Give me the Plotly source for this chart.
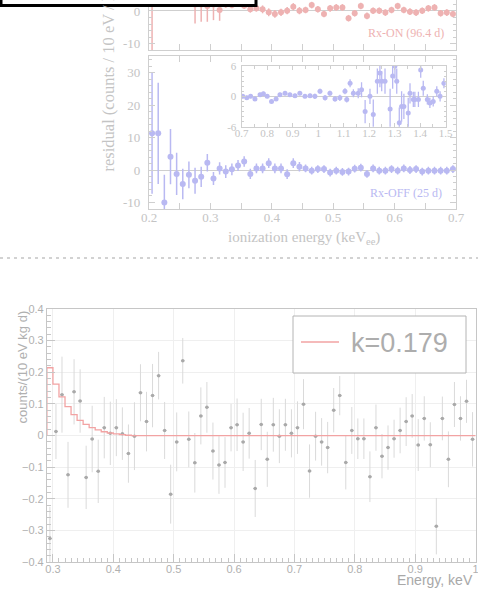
import plotly.graph_objects as go

W, H = 478, 597


def px(x):
    return x / W


def py(y):
    return 1 - y / H


# ---------------- bottom chart (ROOT style) ----------------
bottom_x = [round(0.295 + 0.01 * i, 3) for i in range(71)]
bottom_y = [-0.325, 0.013, 0.129, -0.124, 0.138, 0.109, -0.132, -0.011, -0.113, 0.025,
            0.007, 0.025, 0.006, -0.057, -0.002, 0.135, 0.044, 0.126, 0.189, 0.016,
            -0.185, -0.020, 0.236, -0.012, -0.086, 0.062, 0.089, -0.049, -0.093, -0.085,
            0.025, 0.034, -0.020, 0.007, -0.167, 0.035, -0.075, 0.034, -0.002, 0.034,
            0.007, 0.025, 0.099, -0.112, -0.002, -0.020, -0.038, 0.080, 0.126, -0.085,
            0.016, -0.010, -0.010, -0.130, 0.025, -0.065, -0.038, -0.010, 0.016, 0.044,
            0.062, -0.030, 0.054, -0.029, -0.286, 0.054, -0.075, 0.098, 0.054, 0.108,
            -0.012]
bottom_err = [0.10, 0.087, 0.12, 0.104, 0.103, 0.10, 0.10, 0.105, 0.10, 0.097,
              0.10, 0.09, 0.083, 0.092, 0.107, 0.09, 0.094, 0.10, 0.075, 0.09,
              0.093, 0.093, 0.072, 0.088, 0.094, 0.09, 0.08, 0.09, 0.091, 0.08,
              0.075, 0.083, 0.092, 0.08, 0.09, 0.081, 0.087, 0.085, 0.085, 0.082,
              0.076, 0.083, 0.079, 0.084, 0.077, 0.075, 0.081, 0.07, 0.062, 0.085,
              0.074, 0.064, 0.064, 0.08, 0.073, 0.07, 0.07, 0.06, 0.072, 0.077,
              0.069, 0.082, 0.07, 0.071, 0.089, 0.069, 0.088, 0.071, 0.07, 0.068,
              0.086]
hist_edges = [0.29, 0.30, 0.31, 0.32, 0.33, 0.34, 0.35, 0.36, 0.37, 0.38, 0.39, 0.40,
              0.41, 0.42, 0.43, 1.0]
hist_levels = [0.214, 0.162, 0.122, 0.091, 0.066, 0.048, 0.035, 0.025, 0.018, 0.012,
               0.008, 0.005, 0.003, 0.001, 0.0, 0.0]
bottom_xticks = [0.3, 0.4, 0.5, 0.6, 0.7, 0.8, 0.9, 1.0]
bottom_xtext = ["0.3", "0.4", "0.5", "0.6", "0.7", "0.8", "0.9", "1"]
bottom_yticks = [-0.4, -0.3, -0.2, -0.1, 0, 0.1, 0.2, 0.3, 0.4]
bottom_ytext = ["\u22120.4", "\u22120.3", "\u22120.2", "\u22120.1", "0", "0.1", "0.2", "0.3", "0.4"]
legend_label = "k=0.179"

# ---------------- top chart (residual panels) ----------------
on_x = [0.205, 0.275, 0.285, 0.295, 0.305, 0.315, 0.325, 0.335, 0.345, 0.355, 0.365, 0.375,
        0.385, 0.395, 0.405, 0.415, 0.425, 0.435, 0.445, 0.455, 0.465, 0.475, 0.485,
        0.495, 0.505, 0.515, 0.525, 0.535, 0.545, 0.555, 0.565, 0.575, 0.585, 0.595,
        0.605, 0.615, 0.625, 0.635, 0.645, 0.655, 0.665, 0.675, 0.685, 0.695]
on_y = [5.0, 2.0, 2.0, 1.5, 2.0, 0.3, 2.0, 1.8, 2.2, 1.6, 0.5, 0.8,
        0.5, -0.4, -0.9, -0.4, 0.1, 1.3, 0.1, 0.3, 1.8, 0.5, -0.9,
        0.8, 1.1, 1.1, -2.2, -0.7, 1.5, -1.5, 0.1, 0.1, -0.5, 0.3,
        1.5, 0.3, -0.2, -0.5, 0.1, 0.8, 1.1, -0.7, -0.5, -0.9]
on_err = [30, 5.8, 5.3, 4.8, 4.8, 3.3, 1.0, 1.0, 1.0, 1.0, 1.0, 1.0,
          1.2, 1.2, 1.2, 1.1, 1.1, 1.1, 1.1, 1.0, 1.0, 1.0, 1.0,
          1.0, 1.0, 1.0, 1.0, 1.0, 1.0, 1.0, 1.0, 1.0, 1.0, 1.0,
          1.0, 1.0, 1.0, 1.0, 1.0, 1.0, 1.0, 1.0, 1.0, 1.0]

off_x = [round(0.205 + 0.01 * i, 3) for i in range(50)]
off_y = [11.3, 11.3, -10.0, 4.1, -1.2, -4.3, -1.5, -3.3, -2.1, 2.2,
         -2.6, 0.5, -0.5, 0.2, 1.4, 2.6, -1.2, 0.5, 0.5, 2.1,
         0.5, 0.5, -1.3, 2.1, 1.0, 0.5, -0.2, 0.3, 0.3, -0.8,
         -0.2, -0.6, -0.5, 0.4, 0.7, -1.2, 0.5, -0.2, -0.2, 0.3,
         -0.2, 0.5, 0.0, 0.3, -0.5, -0.2, -0.2, -0.2, -0.2, 0.3]
off_err = [18.6, 15.6, 8.5, 8.5, 6.5, 4.7, 4.1, 4.0, 3.1, 2.7,
           2.0, 1.9, 2.0, 1.8, 1.7, 1.6, 1.6, 1.5, 1.5, 1.5,
           1.5, 1.5, 1.5, 1.5, 1.5, 1.2, 1.2, 1.2, 1.2, 1.2,
           1.2, 1.2, 1.2, 1.2, 1.2, 1.2, 1.2, 1.2, 1.2, 1.2,
           1.2, 1.2, 1.2, 1.2, 1.2, 1.2, 1.2, 1.2, 1.2, 1.2]

inset_x = [0.704, 0.720, 0.735, 0.752, 0.772, 0.785, 0.800, 0.817, 0.835, 0.850,
           0.870, 0.889, 0.909, 0.928, 0.948, 0.968, 0.987, 1.007, 1.027, 1.046,
           1.066, 1.085, 1.105, 1.112, 1.125, 1.138, 1.157, 1.170, 1.184, 1.203,
           1.216, 1.232, 1.242, 1.249, 1.262, 1.282, 1.292, 1.301, 1.308, 1.318,
           1.327, 1.336, 1.353, 1.360, 1.373, 1.379, 1.393, 1.402, 1.412, 1.428,
           1.438, 1.451, 1.465, 1.478, 1.493]
inset_y = [0.0, -0.3, 0.0, -0.5, 0.3, 0.5, 0.0, -1.0, -0.5, 0.3,
           0.6, 0.3, 0.1, 0.6, 0.0, 0.1, 0.0, 1.0, -0.3, 0.6,
           -0.5, -0.3, 1.0, -0.6, 2.6, 0.6, 0.6, 1.3, -3.0, 0.0,
           -3.6, 3.0, 4.6, 3.0, 3.0, -2.5, 4.0, 6.0, 3.0, -5.2,
           -2.0, -2.0, -3.3, 0.6, -0.6, -0.6, -0.6, 5.2, 1.6, -0.6,
           -1.3, -1.0, 1.0, 0.0, 2.6]
inset_err = [0.4, 0.4, 0.4, 0.4, 0.4, 0.4, 0.4, 0.4, 0.4, 0.4,
             0.4, 0.4, 0.4, 0.4, 0.4, 0.4, 0.5, 0.5, 0.5, 0.5,
             0.5, 0.6, 0.6, 0.6, 0.8, 0.8, 1.0, 1.5, 2.3, 1.5,
             3.0, 2.5, 2.8, 2.0, 2.5, 4.0, 2.5, 2.5, 2.5, 3.0,
             3.0, 2.5, 3.0, 2.0, 1.5, 1.5, 1.5, 1.5, 1.5, 1.0,
             1.0, 1.0, 1.0, 1.0, 1.0]

on_label = "Rx-ON (96.4 d)"
off_label = "Rx-OFF (25 d)"
top_ytitle = "residual (counts / 10 eV / kg / day)"
top_xtitle = "ionization energy (keV<sub>ee</sub>)"

# ---------------- styles ----------------
PINK = "#eeb2b2"
BLUE = "#b9b9f2"
TOPAX = "#cfcfcf"
TOPTXT = "#c4c4c4"
SERIF = "Liberation Serif"
SANS = "Liberation Sans"
ROOTAX = "#c6c6c6"
ROOTTXT = "#b0b0b0"
RED = "#f2a3a3"

fig = go.Figure()

# bottom data
fig.add_trace(go.Scatter(
    x=bottom_x, y=bottom_y, mode="markers", xaxis="x", yaxis="y",
    marker=dict(size=3.5, color="#a9a9a9"),
    error_y=dict(type="data", array=bottom_err, color="#dadada", thickness=1, width=0),
    error_x=dict(type="constant", value=0.003, color="#b0b0b0", thickness=1, width=0),
    showlegend=False, hoverinfo="skip"))
fig.add_trace(go.Scatter(
    x=[hist_edges[0]] + hist_edges, y=[0.0] + hist_levels, mode="lines",
    line=dict(color=RED, width=1.3, shape="hv"), xaxis="x", yaxis="y",
    showlegend=False, hoverinfo="skip"))

# top: Rx-ON
fig.add_trace(go.Scatter(
    x=on_x, y=on_y, mode="markers", xaxis="x2", yaxis="y2",
    marker=dict(size=6, color=PINK),
    error_y=dict(type="data", array=on_err, color=PINK, thickness=1.5, width=0),
    showlegend=False, hoverinfo="skip"))
# top: Rx-OFF
fig.add_trace(go.Scatter(
    x=off_x, y=off_y, mode="markers", xaxis="x3", yaxis="y3",
    marker=dict(size=6, color=BLUE),
    error_y=dict(type="data", array=off_err, color=BLUE, thickness=1.5, width=0),
    showlegend=False, hoverinfo="skip"))
# inset
fig.add_trace(go.Scatter(
    x=inset_x, y=inset_y, mode="markers", xaxis="x4", yaxis="y4",
    marker=dict(size=5, color=BLUE),
    error_y=dict(type="data", array=inset_err, color=BLUE, thickness=1.3, width=0),
    showlegend=False, hoverinfo="skip"))

root_axis = dict(showline=True, linecolor=ROOTAX, linewidth=1, mirror=True,
                 ticks="inside", tickcolor=ROOTAX, ticklen=8, automargin=False,
                 showgrid=True, gridcolor="#efefef", gridwidth=1, zeroline=False,
                 ticklabeloverflow="allow",
                 tickfont=dict(family=SANS, size=11, color=ROOTTXT))

top_axis = dict(showline=True, linecolor=TOPAX, linewidth=1.3, automargin=False,
                ticks="inside", tickcolor=TOPAX, ticklen=6, showgrid=False,
                ticklabeloverflow="allow",
                tickfont=dict(family=SERIF, size=13, color=TOPTXT))

fig.update_layout(
    template="none",
    width=W, height=H, autosize=False,
    margin=dict(l=0, r=0, t=0, b=0, pad=0, autoexpand=False),
    paper_bgcolor="white", plot_bgcolor="rgba(0,0,0,0)",
    xaxis=dict(domain=[px(46.9), px(475.7)], range=[0.29, 1.0002], anchor="y",
               tickmode="array", tickvals=bottom_xticks, ticktext=bottom_xtext,
               ticklabelstandoff=-4,
               minor=dict(ticks="inside", ticklen=4, dtick=0.01, tick0=0.29,
                          tickcolor=ROOTAX, showgrid=False),
               **root_axis),
    yaxis=dict(domain=[py(562.3), py(308.8)], range=[-0.4, 0.4], anchor="x",
               tickmode="array", tickvals=bottom_yticks, ticktext=bottom_ytext,
               minor=dict(ticks="inside", ticklen=4, dtick=0.02, tick0=0,
                          tickcolor=ROOTAX, showgrid=False),
               **root_axis),
    xaxis2=dict(domain=[px(149), px(456)], range=[0.2, 0.7], anchor="y2",
                showticklabels=False, tickmode="array",
                tickvals=[0.2, 0.3, 0.4, 0.5, 0.6, 0.7],
                minor=dict(ticks="inside", ticklen=6, dtick=0.05, tick0=0.2, tickcolor=TOPAX),
                zeroline=False, **top_axis),
    yaxis2=dict(domain=[py(50), 1.0], range=[-11.93, 3.36], anchor="x2",
                tickmode="array", tickvals=[-10, 0], ticktext=["-10", "0"],
                mirror="allticks", ticklabelstandoff=5,
                minor=dict(ticks="inside", ticklen=3, dtick=2, tick0=0, tickcolor=TOPAX),
                zeroline=True, zerolinecolor=TOPAX, zerolinewidth=1.3, **top_axis),
    xaxis3=dict(domain=[px(149), px(456)], range=[0.2, 0.7], anchor="y3",
                tickmode="array", tickvals=[0.2, 0.3, 0.4, 0.5, 0.6, 0.7],
                ticktext=["0.2", "0.3", "0.4", "0.5", "0.6", "0.7"],
                mirror="allticks", ticklabelstandoff=-4,
                minor=dict(ticks="inside", ticklen=6, dtick=0.05, tick0=0.2, tickcolor=TOPAX),
                zeroline=False, **top_axis),
    yaxis3=dict(domain=[py(209.3), py(56)], range=[-12.1, 35.1], anchor="x3",
                tickmode="array", tickvals=[-10, 0, 10, 20, 30],
                ticktext=["-10", "0", "10", "20", "30"],
                mirror="allticks", ticklabelstandoff=5,
                minor=dict(ticks="inside", ticklen=3, dtick=2, tick0=0, tickcolor=TOPAX),
                zeroline=True, zerolinecolor=TOPAX, zerolinewidth=1.3, **top_axis),
    xaxis4=dict(domain=[px(241.7), px(445.7)], range=[0.7, 1.5], anchor="y4",
                tickmode="array", tickvals=[0.7, 0.8, 0.9, 1.0, 1.1, 1.2, 1.3, 1.4, 1.5],
                ticktext=["0.7", "0.8", "0.9", "1", "1.1", "1.2", "1.3", "1.4", "1.5"],
                mirror="allticks", zeroline=False, ticklabelstandoff=-4,
                minor=dict(ticks="inside", ticklen=3, dtick=0.05, tick0=0.7, tickcolor=TOPAX),
                **{**top_axis, "ticklen": 4,
                   "tickfont": dict(family=SERIF, size=11, color=TOPTXT)}),
    yaxis4=dict(domain=[py(126.7), py(66)], range=[-6, 6], anchor="x4",
                tickmode="array", tickvals=[-6, 0, 6], ticktext=["-6", "0", "6"],
                mirror="allticks", ticklabelstandoff=2,
                minor=dict(ticks="inside", ticklen=2, dtick=1, tick0=0, tickcolor=TOPAX),
                zeroline=True, zerolinecolor=TOPAX, zerolinewidth=1.2,
                **{**top_axis, "ticklen": 4,
                   "tickfont": dict(family=SERIF, size=11, color=TOPTXT)}),
)

shapes = []
# black-bordered box at top-left
shapes.append(dict(type="rect", xref="paper", yref="paper",
                   x0=px(1), x1=px(256), y0=py(5.5), y1=py(-4),
                   line=dict(color="black", width=3), fillcolor="white", layer="above"))
# dashed separator
shapes.append(dict(type="line", xref="paper", yref="paper",
                   x0=0, x1=1, y0=py(258), y1=py(258),
                   line=dict(color="#c4c4c4", width=1.3, dash="3px,4px")))
# bottom legend box
shapes.append(dict(type="rect", xref="paper", yref="paper",
                   x0=px(293), x1=px(466), y0=py(373), y1=py(316),
                   line=dict(color="#b4b4b4", width=1), fillcolor="white", layer="above"))
shapes.append(dict(type="line", xref="paper", yref="paper",
                   x0=px(301), x1=px(339), y0=py(342), y1=py(342),
                   line=dict(color=RED, width=1.5), layer="above"))

annotations = [
    dict(text=legend_label, xref="paper", yref="paper", x=px(349), y=py(343),
         xanchor="left", yanchor="middle", showarrow=False,
         font=dict(family=SANS, size=27, color="#adadad")),
    dict(text="counts/(10 eV kg d)", xref="paper", yref="paper", x=px(22), y=py(309),
         xanchor="center", yanchor="top", textangle=-90, showarrow=False,
         font=dict(family=SANS, size=13, color=ROOTTXT)),
    dict(text="Energy, keV", xref="paper", yref="paper", x=px(475), y=py(580),
         xanchor="right", yanchor="middle", showarrow=False,
         font=dict(family=SANS, size=14, color="#a8a8a8")),
    dict(text=on_label, xref="paper", yref="paper", x=px(446), y=py(33),
         xanchor="right", yanchor="middle", showarrow=False,
         font=dict(family=SERIF, size=12, color=PINK)),
    dict(text=off_label, xref="paper", yref="paper", x=px(444), y=py(193),
         xanchor="right", yanchor="middle", showarrow=False,
         font=dict(family=SERIF, size=12, color=BLUE)),
    dict(text=top_xtitle, xref="paper", yref="paper", x=px(304), y=py(238),
         xanchor="center", yanchor="middle", showarrow=False,
         font=dict(family=SERIF, size=15, color=TOPTXT)),
    dict(text=top_ytitle, xref="paper", yref="paper", x=px(108), y=py(174),
         xanchor="center", yanchor="bottom", textangle=-90, showarrow=False,
         font=dict(family=SERIF, size=16.5, color=TOPTXT)),
]

fig.update_layout(shapes=shapes, annotations=annotations)
fig.write_html("out.html")
